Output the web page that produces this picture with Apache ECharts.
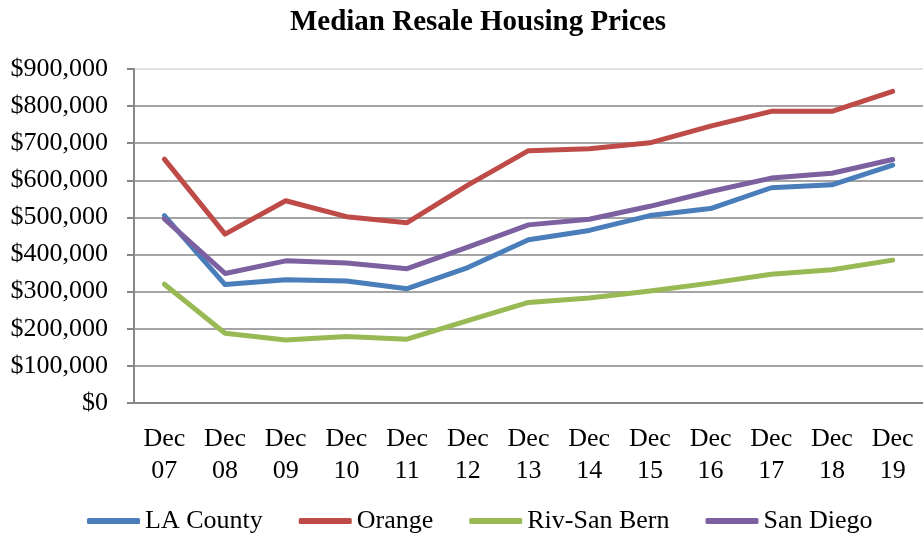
<!DOCTYPE html>
<html>
<head>
<meta charset="utf-8">
<script src="https://cdn.jsdelivr.net/npm/echarts@6/dist/echarts.min.js"></script>
<style>
  html, body { margin: 0; padding: 0; background: #fff; }
  #chart { width: 923px; height: 535px; }
</style>
</head>
<body>
<div id="chart"></div>
<script>
// data
const categories = ['Dec\n07', 'Dec\n08', 'Dec\n09', 'Dec\n10', 'Dec\n11', 'Dec\n12', 'Dec\n13',
    'Dec\n14', 'Dec\n15', 'Dec\n16', 'Dec\n17', 'Dec\n18', 'Dec\n19'];
const laCounty = [505000, 319000, 332000, 329000, 308000, 365000, 440000, 465000, 505000, 524000, 580000, 588000, 641000];
const orange = [657000, 455000, 545000, 502000, 486000, 587000, 680000, 685000, 701000, 746000, 786000, 786000, 840000];
const rivSanBern = [320000, 188000, 170000, 179000, 172000, 222000, 271000, 283000, 302000, 323000, 347000, 359000, 385000];
const sanDiego = [496000, 349000, 383000, 377000, 362000, 420000, 480000, 495000, 530000, 570000, 606000, 619000, 656000];

const font = '"Liberation Serif", "Times New Roman", serif';
const axisGray = '#878787';

const chart = echarts.init(document.getElementById('chart'));

const mkLine = (name, data, color) => ({
    name: name,
    type: 'line',
    data: data,
    symbol: 'none',
    smooth: false,
    lineStyle: { width: 5, color: color, cap: 'round', join: 'round' },
    itemStyle: { color: color },
    emphasis: { disabled: true }
});

chart.setOption({
    animation: false,
    backgroundColor: '#fff',
    title: {
        text: 'Median Resale Housing Prices',
        left: 473,
        top: 3,
        textAlign: 'center',
        textStyle: { fontFamily: font, fontWeight: 'bold', fontSize: 29, color: '#000' }
    },
    grid: { left: 134, right: 0, top: 69, bottom: 132, containLabel: false },
    legend: {
        left: 82,
        top: 503,
        icon: 'roundRect',
        itemWidth: 53,
        itemHeight: 6,
        itemGap: 36,
        textStyle: { fontFamily: font, fontSize: 26, color: '#000' },
        data: ['LA County', 'Orange', 'Riv-San Bern', 'San Diego']
    },
    xAxis: {
        type: 'category',
        data: categories,
        boundaryGap: true,
        axisLine: { lineStyle: { color: axisGray, width: 2 } },
        axisTick: { length: 7, lineStyle: { color: axisGray, width: 2 } },
        axisLabel: {
            fontFamily: font, fontSize: 26, color: '#000',
            lineHeight: 32, margin: 20, interval: 0
        }
    },
    yAxis: {
        type: 'value',
        min: 0,
        max: 900000,
        interval: 100000,
        axisLine: { show: true, lineStyle: { color: axisGray, width: 2 } },
        axisTick: { show: true, length: 7, lineStyle: { color: axisGray, width: 2 } },
        splitLine: {
            lineStyle: {
                color: [axisGray, axisGray, axisGray, axisGray, axisGray,
                    axisGray, axisGray, axisGray, axisGray, '#d9d9d9'],
                width: 1.5
            }
        },
        axisLabel: {
            fontFamily: font, fontSize: 26, color: '#000', margin: 26,
            formatter: v => '$' + v.toLocaleString('en-US')
        }
    },
    series: [
        mkLine('LA County', laCounty, '#4A7EBB'),
        mkLine('Orange', orange, '#BE4B48'),
        mkLine('Riv-San Bern', rivSanBern, '#98B954'),
        mkLine('San Diego', sanDiego, '#7D60A0')
    ]
});
</script>
</body>
</html>
